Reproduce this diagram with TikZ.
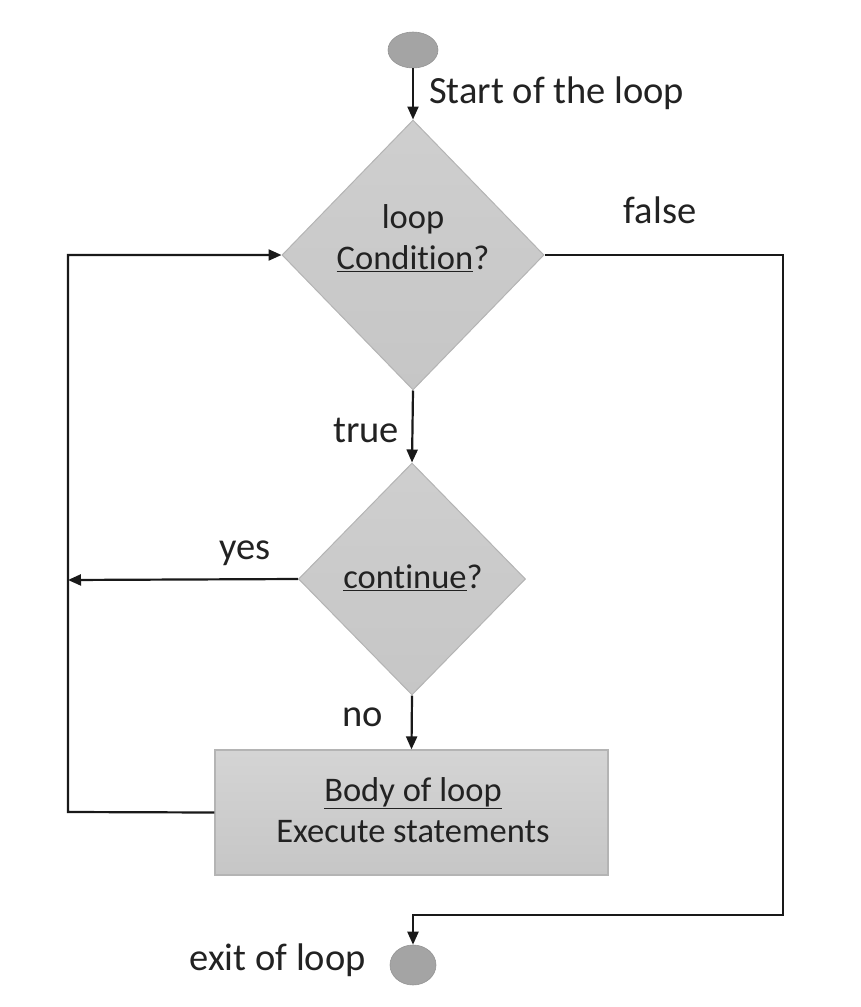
\documentclass[tikz,border=0pt]{standalone}
\usepackage{fontspec}
\setmainfont{Carlito}[Ligatures={NoCommon}]
\usetikzlibrary{shapes.geometric,arrows.meta}
\definecolor{txtc}{HTML}{222222}
\definecolor{diafill}{HTML}{C6C6C6}
\definecolor{diaedge}{HTML}{B4B4B4}
\definecolor{ovalfill}{HTML}{A4A4A4}
\tikzset{
  lbl/.style={text=txtc, font=\fontsize{38.5}{46}\selectfont, inner sep=0pt},
  intxt/.style={text=txtc, font=\fontsize{34.5}{41}\selectfont, inner sep=0pt, align=center},
  oval/.style={ellipse, draw=ovalfill!90!black, fill=ovalfill, line width=0.6pt, inner sep=0pt},
  dia/.style={diamond, draw=diaedge, line width=1pt, top color=diafill!85!white, bottom color=diafill, inner sep=0pt},
  bodybox/.style={rectangle, draw=diaedge, line width=1.2pt, top color=diafill!75!white, bottom color=diafill, inner sep=0pt},
  conn/.style={draw=black!90, line width=2.2pt},
  arr/.style={conn, -{Triangle[length=13pt,width=11pt]}}
}
\begin{document}
\begin{tikzpicture}[x=1pt,y=-1pt]
\useasboundingbox (0,0) rectangle (860,1007);
% shapes
\node[oval, minimum width=50pt, minimum height=36pt] (start) at (413,50) {};
\node[dia, minimum width=262pt, minimum height=270pt] (cond) at (413,255) {};
\node[dia, minimum width=227pt, minimum height=232pt] (cont) at (412,579) {};
\node[bodybox, minimum width=393pt, minimum height=125pt] (body) at (411.5,812.5) {};
\node[oval, minimum width=46pt, minimum height=40pt] (exit) at (413,965) {};
% texts inside
\node[intxt] (condtxt) at (413,238) {loop\\\underline{Condition}?};
\node[intxt] (conttxt) at (413,578) {\underline{continue}?};
\node[intxt] (bodytxt) at (413,810) {\underline{Body of loop}\\Execute statements};
% labels
\node[lbl, anchor=west] (startlbl) at (429,93) {Start of the loop};
\node[lbl] (falselbl) at (660,210) {false};
\node[lbl] (truelbl) at (366,430) {true};
\node[lbl] (yeslbl) at (245,553) {yes};
\node[lbl] (nolbl) at (363,717) {no};
\node[lbl, anchor=east] (exitlbl) at (366,960) {exit of loop};
% coordinates
\coordinate (bl) at (68,812);
\coordinate (tl) at (68,255);
\coordinate (yesend) at (68,580);
\coordinate (fr0) at (783,255);
\coordinate (fr1) at (783,915);
\coordinate (fr2) at (413,915);
% connectors
\draw[arr] (start) -- (cond.north);
\draw[arr] (cond.south) -- (cont.north);
\draw[arr] (cont.south) -- (body.north);
\draw[arr] (body.west) -- (bl) -- (tl) -- (cond.west);
\draw[arr] (cont.west) -- (yesend);
\draw[arr] (cond.east) -- (fr0) -- (fr1) -- (fr2) -- (exit.north);
\end{tikzpicture}
\end{document}
